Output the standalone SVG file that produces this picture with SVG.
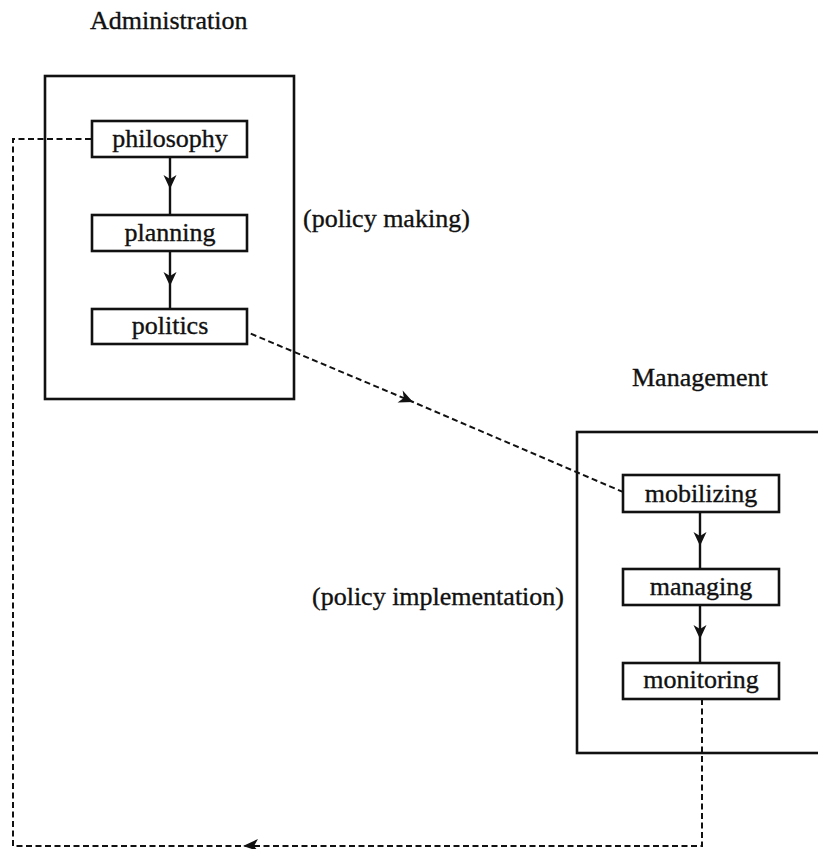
<svg xmlns="http://www.w3.org/2000/svg" width="818" height="849" viewBox="0 0 818 849">
<style>
.frame{fill:none;stroke:#111;stroke-width:2.6}
.box{fill:#fff;stroke:#111;stroke-width:2.6}
.lbl{font-family:"Liberation Serif","Times New Roman",serif;font-size:26px;fill:#111;stroke:#111;stroke-width:0.35;text-anchor:middle}
.cap{font-family:"Liberation Serif","Times New Roman",serif;font-size:26px;fill:#111;stroke:#111;stroke-width:0.35}
.solid{fill:none;stroke:#111;stroke-width:2.4}
.dash{fill:none;stroke:#111;stroke-width:2;stroke-dasharray:6 3.5}
</style>
<defs>
<marker id="ah" markerUnits="userSpaceOnUse" markerWidth="18" markerHeight="16" viewBox="-16 -8 18 16" refX="0" refY="0" orient="auto">
<path d="M-14,-6.5 L0,0 L-14,6.5 L-10,0 Z" fill="#111"/>
</marker>
</defs>
<rect width="818" height="849" fill="#fff"/>
<g id="administration">
<rect class="frame" x="45" y="76" width="249" height="323"/>
<text class="cap" x="90" y="29">Administration</text>
<text class="cap" x="303" y="227">(policy making)</text>
</g>
<g id="management">
<rect class="frame" x="577" y="432" width="260" height="321"/>
<text class="cap" x="632" y="386">Management</text>
<text class="cap" x="312" y="605">(policy implementation)</text>
</g>
<g id="connectors">
<path class="solid" d="M170 157 L170 189 L170 215" marker-mid="url(#ah)"/>
<path class="solid" d="M170 251 L170 286 L170 309" marker-mid="url(#ah)"/>
<path class="solid" d="M700 512 L700 546 L700 569" marker-mid="url(#ah)"/>
<path class="solid" d="M700 605 L700 639 L700 663" marker-mid="url(#ah)"/>
<path class="dash" d="M242 330 L413 402 L637 498" marker-mid="url(#ah)"/>
<path class="dash" d="M702 699 L702 846 L13 846 L13 139 L92 139"/>
<path d="M258 839 L243 846 L258 851 L254 846 Z" fill="#111"/>
</g>
<g id="philosophy">
<rect class="box" x="92" y="121" width="155" height="36"/>
<text class="lbl" x="170" y="147">philosophy</text>
</g>
<g id="planning">
<rect class="box" x="92" y="215" width="155" height="36"/>
<text class="lbl" x="170" y="241">planning</text>
</g>
<g id="politics">
<rect class="box" x="92" y="309" width="155" height="35"/>
<text class="lbl" x="170" y="334">politics</text>
</g>
<g id="mobilizing">
<rect class="box" x="623" y="475" width="156" height="37"/>
<text class="lbl" x="701" y="502">mobilizing</text>
</g>
<g id="managing">
<rect class="box" x="623" y="569" width="156" height="36"/>
<text class="lbl" x="701" y="595">managing</text>
</g>
<g id="monitoring">
<rect class="box" x="623" y="663" width="156" height="36"/>
<text class="lbl" x="701" y="688">monitoring</text>
</g>
</svg>
